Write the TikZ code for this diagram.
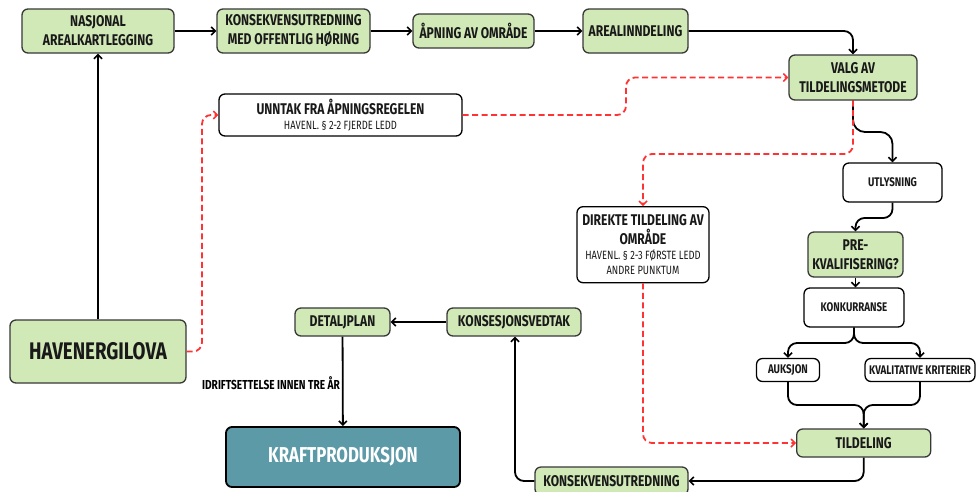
\documentclass[tikz,border=0pt]{standalone}
\usepackage{fontspec}
\setmainfont{Fira Sans}[FakeStretch=0.78]
\usetikzlibrary{arrows.meta}
\definecolor{lgreen}{HTML}{D1E8B7}
\definecolor{bordc}{HTML}{383838}
\definecolor{tealc}{HTML}{5C9AA8}
\definecolor{redc}{HTML}{FF3333}
\newcommand\ftHuge{\fontsize{24}{27}\selectfont\bfseries}
\newcommand\ftBig{\fontsize{15.5}{19}\selectfont\bfseries}
\newcommand\ftMid{\fontsize{15.5}{19}\selectfont\bfseries}
\newcommand\ftSml{\fontsize{12.5}{15}\selectfont\bfseries}
\newcommand\ftSub{\fontsize{12}{15}\selectfont\mdseries}
\begin{document}
\begin{tikzpicture}[x=1pt,y=-1pt,
  box/.style={draw=bordc, line width=1.3pt, rounded corners=6pt, align=center, inner sep=0pt, text=black!90},
  gbox/.style={box, fill=lgreen},
  wbox/.style={box, fill=white, draw=black},
  arr/.style={line width=1.8pt, draw=black, rounded corners=9pt, -{Straight Barb[length=4pt,width=8pt,line width=1.6pt]}},
  rarr/.style={line width=1.8pt, draw=redc, dash pattern=on 6pt off 3.5pt, rounded corners=9pt, -{Straight Barb[length=4pt,width=8pt,line width=1.5pt]}}
]
\useasboundingbox (0,0) rectangle (976,491);

% nodes
\node[gbox, minimum width=152pt, minimum height=44pt, font=\ftBig] (nasj) at (98,31) {NASJONAL\\AREALKARTLEGGING};
\node[gbox, minimum width=153pt, minimum height=44pt, font=\ftBig] (kons1) at (293.5,31) {KONSEKVENSUTREDNING\\MED OFFENTLIG HØRING};
\node[gbox, minimum width=121pt, minimum height=34pt, font=\ftBig] (apn) at (473.5,31) {ÅPNING AV OMRÅDE};
\node[gbox, minimum width=105pt, minimum height=44pt, font=\ftBig] (areal) at (635.5,31) {AREALINNDELING};
\node[gbox, minimum width=128pt, minimum height=45pt, font=\ftBig] (valg) at (853,77.5) {VALG AV\\TILDELINGSMETODE};
\node[wbox, minimum width=243pt, minimum height=42pt, font=\ftBig] (unntak) at (340.5,115) {UNNTAK FRA ÅPNINGSREGELEN\\[-4pt]{\ftSub HAVENL. § 2-2 FJERDE LEDD}};
\node[wbox, minimum width=99pt, minimum height=39pt, font=\ftSml] (utl) at (892.5,182.5) {UTLYSNING};
\node[gbox, minimum width=95pt, minimum height=45pt, font=\ftBig] (pre) at (855.5,254.5) {PRE-\\KVALIFISERING?};
\node[wbox, minimum width=100pt, minimum height=39pt, font=\ftSml] (konk) at (854,307.5) {KONKURRANSE};
\node[wbox, minimum width=63pt, minimum height=23pt, font=\ftSml] (auk) at (788,370) {AUKSJON};
\node[wbox, minimum width=110pt, minimum height=23pt, font=\ftSml] (kval) at (920,370) {KVALITATIVE KRITERIER};
\node[gbox, minimum width=134pt, minimum height=28pt, font=\ftBig] (tild) at (863.7,443) {TILDELING};
\node[wbox, minimum width=132pt, minimum height=76pt, font=\ftBig] (dir) at (643,244.7) {DIREKTE TILDELING AV\\OMRÅDE\\[-4pt]{\ftSub HAVENL. § 2-3 FØRSTE LEDD}\\[-4pt]{\ftSub ANDRE PUNKTUM}};
\node[gbox, minimum width=176pt, minimum height=63pt, font=\ftHuge] (hav) at (98,351.5) {HAVENERGILOVA};
\node[gbox, minimum width=95pt, minimum height=28pt, font=\ftMid] (detalj) at (342.5,322) {DETALJPLAN};
\node[gbox, minimum width=134pt, minimum height=28pt, font=\ftMid] (konsesj) at (514,322) {KONSESJONSVEDTAK};
\node[box, draw=black, line width=1.8pt, fill=tealc, text=white, minimum width=234pt, minimum height=60pt, font=\fontsize{21.5}{25}\selectfont\bfseries] (kraft) at (343,457) {KRAFTPRODUKSJON};
\node[gbox, minimum width=153pt, minimum height=28pt, font=\ftMid] (kons2) at (611.5,481) {KONSEKVENSUTREDNING};
\node[font=\fontsize{13}{15}\selectfont\bfseries, anchor=east, inner sep=0pt] (idrift) at (340,383) {IDRIFTSETTELSE INNEN TRE ÅR};

% helper coordinates
\coordinate (xh) at (202,0);
\coordinate (xu) at (626,0);
\coordinate (yd) at (0,154);
\coordinate (y1) at (0,132);
\coordinate (y2) at (0,218);
\coordinate (y3) at (0,343);
\coordinate (y4) at (0,405);
\coordinate (xk) at (515,0);

% black connectors
\draw[arr] (nasj) -- (kons1);
\draw[arr] (kons1) -- (apn);
\draw[arr] (apn) -- (areal);
\draw[arr] (areal.east) -| (valg.north);
\draw[arr] (hav.north) -- (nasj.south);
\draw[arr, rounded corners=12pt] (valg.south) -- (valg.south |- y1) -- (utl.north |- y1) -- (utl.north);
\draw[arr] (utl.south) -- (utl.south |- y2) -- (pre.north |- y2) -- (pre.north);
\draw[arr] (pre.south) -- (konk.north -| pre.south);
\draw[arr] (konk.south) -- (konk.south |- y3) -- (auk.north |- y3) -- (auk.north);
\draw[arr] (konk.south) -- (konk.south |- y3) -- (kval.north |- y3) -- (kval.north);
\draw[arr] (auk.south) -- (auk.south |- y4) -- (tild.north |- y4) -- (tild.north);
\draw[arr] (kval.south) -- (kval.south |- y4) -- (tild.north |- y4) -- (tild.north);
\draw[arr] (tild.south) |- (kons2.east);
\draw[arr] (kons2.west) -- (xk |- kons2.west) -- (xk |- konsesj.south);
\draw[arr] (konsesj) -- (detalj);
\draw[arr] (detalj) -- (kraft);

% red dashed connectors
\draw[rarr] (hav.east) -- (xh |- hav.east) -- (xh |- unntak.west) -- (unntak.west);
\draw[rarr] (unntak.east) -- (xu |- unntak.east) -- (xu |- valg.west) -- (valg.west);
\draw[rarr] (valg.south) -- (valg.south |- yd) -- (dir.north |- yd) -- (dir.north);
\draw[rarr] (dir.south) |- (tild.west);
\end{tikzpicture}
\end{document}
